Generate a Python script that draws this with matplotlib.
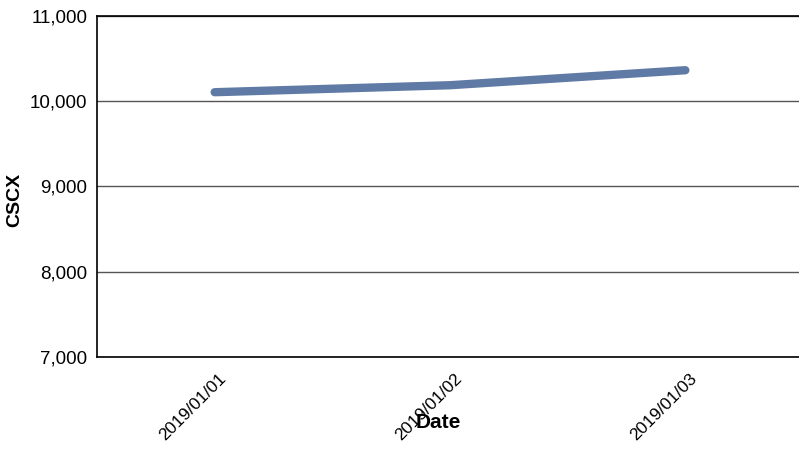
import matplotlib.pyplot as plt
from matplotlib.transforms import ScaledTranslation

plt.rcParams["font.family"] = ["Liberation Sans", "DejaVu Sans"]

dates = ["2019/01/01", "2019/01/02", "2019/01/03"]
cscx = [10106, 10188, 10364]
y_ticks = [7000, 8000, 9000, 10000, 11000]

fig = plt.figure(figsize=(7.99, 4.49), dpi=100)
ax = fig.add_axes([97 / 799, 92 / 449, 706 / 799, 341 / 449])

x = list(range(len(dates)))
ax.plot(x, cscx, color="#5f7aa4", linewidth=6, solid_capstyle="round", solid_joinstyle="round")

ax.set_xlim(-0.5, len(dates) - 0.5)
ax.set_ylim(7000, 11000)
ax.set_yticks(y_ticks)
ax.set_yticklabels([f"{v:,}" for v in y_ticks])
ax.set_xticks(x)
ax.set_xticklabels(dates, rotation=45, ha="right", va="top", rotation_mode="anchor")

ax.grid(axis="y", color="#555555", linewidth=1)
ax.set_axisbelow(True)
ax.tick_params(length=0, labelsize=13.5, pad=7)
ax.tick_params(axis="x", labelsize=12.5, pad=10)

# nudge the rotated labels a little to the right
shift = ScaledTranslation(0.04, 0, fig.dpi_scale_trans)
for label in ax.get_xticklabels():
    label.set_transform(label.get_transform() + shift)

for side in ["left", "bottom", "top"]:
    ax.spines[side].set_color("black")
    ax.spines[side].set_linewidth(1.2)
ax.spines["right"].set_visible(False)

fig.text(15 / 799, 1 - 200 / 449, "CSCX", fontsize=14, fontweight="bold",
         rotation=90, ha="center", va="center")
fig.text(438 / 799, 1 - 422 / 449, "Date", fontsize=15, fontweight="bold", ha="center", va="center")

fig.savefig("out.png", dpi=100)
